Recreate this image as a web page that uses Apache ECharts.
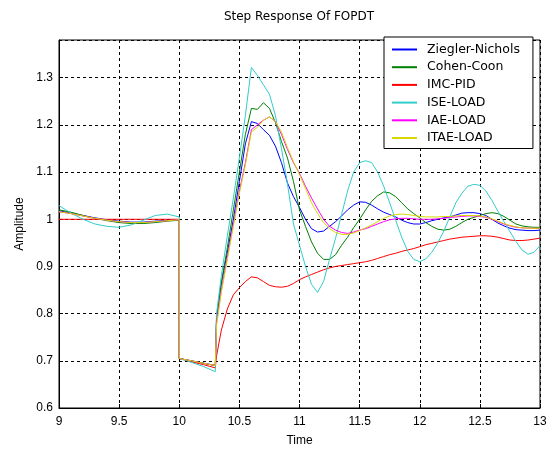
<!DOCTYPE html>
<html><head><meta charset="utf-8">
<script src="https://cdn.jsdelivr.net/npm/echarts@6/dist/echarts.min.js"></script>
<style>html,body{margin:0;padding:0;background:#fff}#c{width:549px;height:449px}</style>
</head><body><div id="c"></div>
<script>
const title = "Step Response Of FOPDT";
const xName = "Time";
const yName = "Amplitude";
const names = ["Ziegler-Nichols","Cohen-Coon","IMC-PID","ISE-LOAD","IAE-LOAD","ITAE-LOAD"];
const colors = ["#0000ff","#008000","#ff0000","#33cccc","#ff00ff","#d8d800"];
const T = [9,9.1,9.2,9.3,9.4,9.5,9.6,9.7,9.8,9.9,10,
10,10.1,10.2,10.3,10.31,10.35,10.4,10.45,10.5,10.55,10.6,10.65,10.7,10.75,10.8,10.85,10.9,10.95,11,
11.05,11.1,11.15,11.2,11.25,11.3,11.35,11.4,11.45,11.5,11.55,11.6,11.65,11.7,11.75,11.8,11.85,11.9,11.95,12,
12.05,12.1,12.15,12.2,12.25,12.3,12.35,12.4,12.45,12.5,12.55,12.6,12.65,12.7,12.75,12.8,12.85,12.9,12.95,13];
const zieglerNichols = [1.018,1.013,1.008,1.003,0.999,0.996,0.994,0.994,0.996,0.998,0.999,
0.705,0.7,0.695,0.69,0.79,0.865,0.93,1.0,1.08,1.16,1.207,1.203,1.19,1.178,1.155,1.12,1.077,1.048,1.025,
1.0,0.98,0.973,0.975,0.985,0.995,1.007,1.02,1.03,1.037,1.036,1.03,1.022,1.015,1.01,1.005,0.998,0.993,0.99,0.99,
0.993,0.997,1.0,1.003,1.005,1.009,1.013,1.014,1.014,1.012,1.008,1.0,0.992,0.986,0.981,0.978,0.977,0.976,0.976,0.977];
const cohenCoon = [1.02,1.015,1.008,1.002,0.997,0.993,0.991,0.991,0.993,0.996,0.998,
0.705,0.7,0.695,0.69,0.79,0.865,0.94,1.02,1.1,1.18,1.235,1.233,1.247,1.235,1.205,1.165,1.13,1.08,1.02,
0.985,0.952,0.928,0.915,0.915,0.925,0.945,0.962,0.982,1.0,1.02,1.038,1.05,1.058,1.056,1.048,1.035,1.022,1.012,1.003,
0.993,0.985,0.979,0.977,0.979,0.985,0.993,1.0,1.004,1.008,1.012,1.014,1.012,1.006,0.998,0.99,0.986,0.984,0.983,0.983];
const imcPid = [1,1,1,1,1,1,1,1,1,1,1,
0.705,0.698,0.692,0.685,0.71,0.765,0.81,0.84,0.855,0.868,0.878,0.876,0.868,0.86,0.857,0.856,0.858,0.864,0.872,
0.878,0.883,0.888,0.893,0.897,0.9,0.902,0.904,0.906,0.908,0.91,0.913,0.917,0.921,0.925,0.928,0.932,0.935,0.938,0.942,
0.946,0.949,0.952,0.955,0.958,0.96,0.962,0.963,0.964,0.965,0.965,0.964,0.962,0.959,0.956,0.955,0.955,0.956,0.958,0.96];
const iseLoad = [1.029,1.013,1.0,0.99,0.985,0.983,0.988,0.998,1.008,1.011,1.005,
0.705,0.697,0.688,0.677,0.8,0.88,0.965,1.045,1.13,1.22,1.322,1.305,1.285,1.265,1.22,1.15,1.075,0.99,0.945,
0.9,0.862,0.845,0.868,0.915,0.96,1.01,1.06,1.1,1.12,1.124,1.12,1.1,1.07,1.035,0.998,0.962,0.932,0.915,0.91,
0.916,0.93,0.95,0.975,1.005,1.035,1.055,1.07,1.074,1.072,1.06,1.04,1.017,0.995,0.974,0.953,0.935,0.926,0.93,0.944];
const iaeLoad = [1.016,1.012,1.007,1.002,0.998,0.995,0.993,0.993,0.995,0.997,0.999,
0.705,0.7,0.695,0.69,0.78,0.85,0.92,0.99,1.06,1.12,1.19,1.2,1.21,1.217,1.207,1.18,1.148,1.12,1.097,
1.07,1.045,1.022,1.0,0.985,0.977,0.972,0.97,0.973,0.977,0.98,0.985,0.99,0.995,0.999,1.001,1.002,1.002,1.001,1.0,
1.0,1.0,1.001,1.002,1.004,1.005,1.006,1.007,1.007,1.006,1.004,1.0,0.995,0.99,0.986,0.983,0.982,0.981,0.981,0.98];
const itaeLoad = [1.016,1.012,1.007,1.002,0.998,0.995,0.993,0.993,0.995,0.997,0.999,
0.705,0.7,0.695,0.69,0.775,0.845,0.915,0.985,1.055,1.115,1.185,1.195,1.21,1.217,1.207,1.185,1.152,1.122,1.095,
1.065,1.035,1.012,0.993,0.98,0.972,0.968,0.968,0.971,0.976,0.982,0.988,0.995,1.002,1.007,1.01,1.011,1.01,1.008,1.006,
1.005,1.005,1.005,1.006,1.006,1.007,1.008,1.008,1.008,1.007,1.005,1.001,0.996,0.991,0.987,0.984,0.982,0.981,0.981,0.981];
const allSeries = [zieglerNichols, cohenCoon, imcPid, iseLoad, iaeLoad, itaeLoad];

const font = "'Liberation Sans', Arial, sans-serif";
const wideFont = "'DejaVu Sans', sans-serif";
const chart = echarts.init(document.getElementById('c'), null, {renderer:'canvas'});
const gridLine = {show:true, lineStyle:{color:'#000', type:[3,3], width:1}};
chart.setOption({
  backgroundColor:'#fff',
  animation:false,
  title:{text:title, left:294, top:6, textAlign:'center',
    textStyle:{fontFamily:wideFont, fontSize:12, fontWeight:'normal', color:'#000'}},
  grid:{left:59, right:9, top:40, bottom:41, containLabel:false, outerBoundsMode:'none',
    show:true, borderColor:'#000', borderWidth:1, backgroundColor:'#fff'},
  legend:{orient:'vertical', left:384, top:37, data:names,
    icon:'rect', itemWidth:25, itemHeight:2, itemGap:2.7,
    padding:[5,13,3,8], backgroundColor:'#fff', borderColor:'#000', borderWidth:1,
    textStyle:{fontFamily:wideFont, fontSize:12.5, color:'#000', lineHeight:15, padding:[0,0,0,5]}},
  xAxis:{type:'value', min:9, max:13, interval:0.5, name:xName, nameLocation:'middle', nameGap:27,
    nameTextStyle:{fontFamily:font, fontSize:12, color:'#000'},
    axisLine:{show:true, lineStyle:{color:'#000'}}, axisTick:{show:true, inside:true, length:4, lineStyle:{color:'#000'}},
    axisLabel:{fontFamily:font, fontSize:12, color:'#000', margin:8},
    splitLine:gridLine},
  yAxis:{type:'value', min:0.6, max:1.38, interval:0.1, name:yName, nameLocation:'middle', nameGap:31, nameRotate:90,
    nameTextStyle:{fontFamily:font, fontSize:12, color:'#000'},
    axisLine:{show:true, lineStyle:{color:'#000'}}, axisTick:{show:true, inside:true, length:4, lineStyle:{color:'#000'}},
    axisLabel:{fontFamily:font, fontSize:12, color:'#000', margin:6, showMaxLabel:false},
    splitLine:gridLine},
  series: names.map((n,k)=>({
    name:n, type:'line', showSymbol:false, symbol:'none', color:colors[k],
    lineStyle:{width:1, color:colors[k]},
    data: T.map((t,i)=>[t, allSeries[k][i]])
  }))
});
</script></body></html>
